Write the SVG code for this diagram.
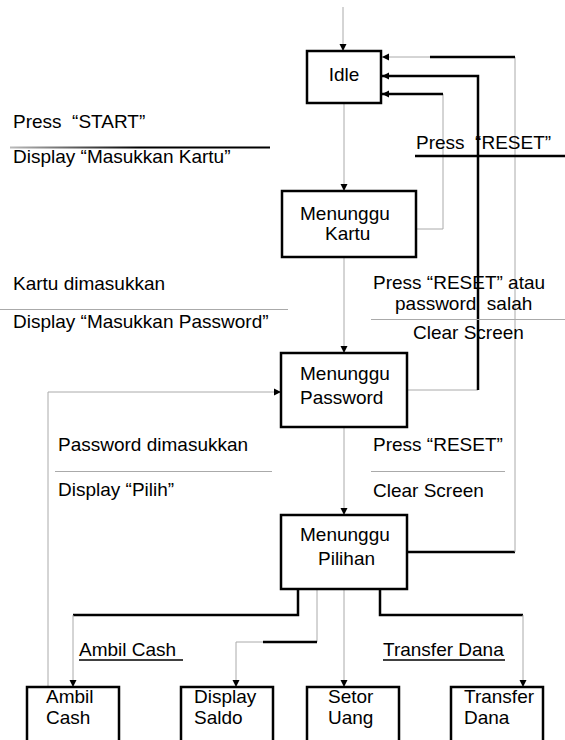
<svg xmlns="http://www.w3.org/2000/svg" width="565" height="740" viewBox="0 0 565 740">
<style>
text { font-family: "Liberation Sans", Arial, sans-serif; font-size: 19px; fill: #000; white-space: pre; }
.box { fill: #fff; stroke: #000; stroke-width: 2.5; }
.thin { fill: none; stroke: #aaa; stroke-width: 1; }
.thick { fill: none; stroke: #000; stroke-width: 2.5; }
.rule { stroke: #aaa; stroke-width: 1; }
.ul { stroke: #000; stroke-width: 1.5; }
</style>
<defs>
<marker id="ah" markerUnits="userSpaceOnUse" markerWidth="8" markerHeight="8" refX="7" refY="4" orient="auto">
<path d="M0,0.5 L7,4 L0,7.5 z" fill="#000"/>
</marker>
<linearGradient id="fade" gradientUnits="userSpaceOnUse" x1="10" y1="0" x2="270" y2="0">
<stop offset="0" stop-color="#bbb"/>
<stop offset="0.5" stop-color="#000"/>
<stop offset="1" stop-color="#000"/>
</linearGradient>
</defs>
<rect width="565" height="740" fill="#fff"/>

<g id="connectors">
<line class="thin" x1="343" y1="7" x2="343" y2="51" marker-end="url(#ah)"/>
<line class="thin" x1="344" y1="103" x2="344" y2="191" marker-end="url(#ah)"/>
<line class="thin" x1="344" y1="257" x2="344" y2="353" marker-end="url(#ah)"/>
<line class="thin" x1="344" y1="427" x2="344" y2="515" marker-end="url(#ah)"/>
<path class="thin" d="M416,229 H443 V94"/>
<path class="thick" d="M443,94 H382" marker-end="url(#ah)"/>
<path class="thin" d="M407,390 H478"/>
<path class="thick" d="M478,390 V76 H382" marker-end="url(#ah)"/>
<path class="thick" d="M407,552 H515"/>
<path class="thin" d="M515,552 V57 H430"/>
<path class="thick" d="M515,57 H430"/>
<path class="thin" d="M430,57 H382" marker-end="url(#ah)"/>
<path class="thin" d="M48,687 V392 H281" marker-end="url(#ah)"/>
<path class="thick" d="M298,589 V615 H73"/>
<path class="thin" d="M73,615 V687" marker-end="url(#ah)"/>
<path class="thin" d="M317,589 V642"/>
<path class="thick" d="M317,642 H263"/>
<path class="thin" d="M263,642 H236 V687" marker-end="url(#ah)"/>
<line class="thin" x1="344" y1="589" x2="344" y2="687" marker-end="url(#ah)"/>
<path class="thick" d="M380,589 V615 H523"/>
<path class="thin" d="M523,615 V687" marker-end="url(#ah)"/>
</g>

<g id="labels">
<text x="13" y="128">Press  “START”</text>
<line x1="10" y1="147.5" x2="270" y2="147.5" stroke="url(#fade)" stroke-width="2"/>
<text x="13" y="163">Display “Masukkan Kartu”</text>
<text x="416" y="149">Press  “RESET”</text>
<line class="thick" x1="415" y1="156" x2="565" y2="156"/>
<text x="13" y="290">Kartu dimasukkan</text>
<line class="rule" x1="0" y1="309.5" x2="288" y2="309.5"/>
<text x="13" y="328">Display “Masukkan Password”</text>
<text x="373" y="289">Press “RESET” atau</text>
<text x="395" y="310">password  salah</text>
<line class="rule" x1="371" y1="319.5" x2="565" y2="319.5"/>
<text x="413" y="339">Clear Screen</text>
<text x="58" y="451">Password dimasukkan</text>
<line class="rule" x1="55" y1="471.5" x2="272" y2="471.5"/>
<text x="58" y="496">Display “Pilih”</text>
<text x="373" y="451">Press “RESET”</text>
<line class="rule" x1="371" y1="471.5" x2="505" y2="471.5"/>
<text x="373" y="497">Clear Screen</text>
<text x="79" y="656">Ambil Cash</text>
<line class="ul" x1="79" y1="660" x2="183" y2="660"/>
<text x="383" y="656">Transfer Dana</text>
<line class="ul" x1="383" y1="660" x2="505" y2="660"/>
</g>

<g id="idle">
<rect class="box" x="307" y="51" width="74" height="52"/>
<text x="344" y="81" text-anchor="middle">Idle</text>
</g>
<g id="menunggu-kartu">
<rect class="box" x="282" y="191" width="134" height="66"/>
<text x="300" y="219.5">Menunggu</text>
<text x="325" y="240">Kartu</text>
</g>
<g id="menunggu-password">
<rect class="box" x="281" y="353" width="126" height="74"/>
<text x="300" y="380">Menunggu</text>
<text x="300" y="404">Password</text>
</g>
<g id="menunggu-pilihan">
<rect class="box" x="281" y="515" width="126" height="74"/>
<text x="300" y="541">Menunggu</text>
<text x="318" y="565">Pilihan</text>
</g>
<g id="ambil-cash">
<rect class="box" x="27" y="687" width="92" height="60"/>
<text x="46" y="703">Ambil</text>
<text x="46" y="724">Cash</text>
</g>
<g id="display-saldo">
<rect class="box" x="181" y="687" width="92" height="60"/>
<text x="194" y="703">Display</text>
<text x="194" y="724">Saldo</text>
</g>
<g id="setor-uang">
<rect class="box" x="307" y="687" width="92" height="60"/>
<text x="328" y="703">Setor</text>
<text x="328" y="724">Uang</text>
</g>
<g id="transfer-dana">
<rect class="box" x="451" y="687" width="92" height="60"/>
<text x="464" y="703">Transfer</text>
<text x="464" y="724">Dana</text>
</g>
</svg>
